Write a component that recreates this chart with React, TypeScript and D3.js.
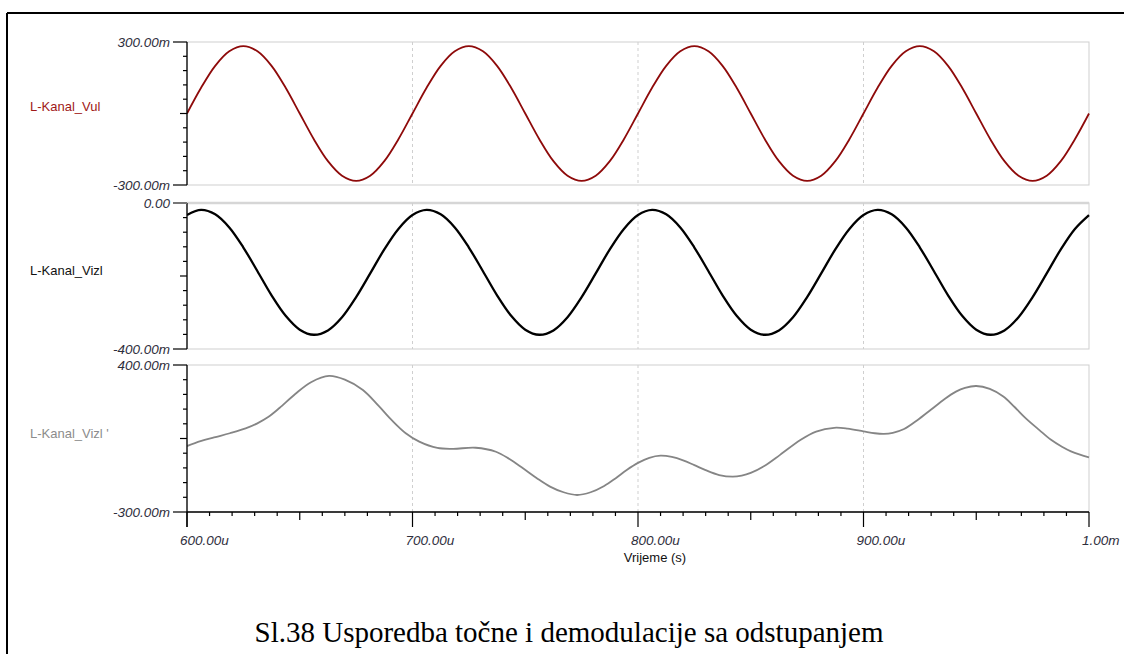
import React from 'react';
import * as d3 from 'd3';

// time samples (microseconds) for the two upper traces
const sampleTimesUs = [
  600, 606.25, 612.5, 618.75, 625, 631.25, 637.5, 643.75,
  650, 656.25, 662.5, 668.75, 675, 681.25, 687.5, 693.75,
  700, 706.25, 712.5, 718.75, 725, 731.25, 737.5, 743.75,
  750, 756.25, 762.5, 768.75, 775, 781.25, 787.5, 793.75,
  800, 806.25, 812.5, 818.75, 825, 831.25, 837.5, 843.75,
  850, 856.25, 862.5, 868.75, 875, 881.25, 887.5, 893.75,
  900, 906.25, 912.5, 918.75, 925, 931.25, 937.5, 943.75,
  950, 956.25, 962.5, 968.75, 975, 981.25, 987.5, 993.75,
  1000,
];

// L-Kanal_Vul (V)
const vulValues = [
  0, 0.108, 0.2, 0.261, 0.283, 0.261, 0.2, 0.108, 0, -0.108, -0.2, -0.261, -0.283, -0.261, -0.2, -0.108,
  0, 0.108, 0.2, 0.261, 0.283, 0.261, 0.2, 0.108, 0, -0.108, -0.2, -0.261, -0.283, -0.261, -0.2, -0.108,
  0, 0.108, 0.2, 0.261, 0.283, 0.261, 0.2, 0.108, 0, -0.108, -0.2, -0.261, -0.283, -0.261, -0.2, -0.108,
  0, 0.108, 0.2, 0.261, 0.283, 0.261, 0.2, 0.108, 0, -0.108, -0.2, -0.261, -0.283, -0.261, -0.2, -0.108,
  0,
];

// L-Kanal_Vizl (V)
const vizlValues = [
  -0.033, -0.019, -0.031, -0.067, -0.122, -0.187, -0.253, -0.309, -0.347, -0.361, -0.349, -0.313, -0.258, -0.193, -0.127, -0.071,
  -0.033, -0.019, -0.031, -0.067, -0.122, -0.187, -0.253, -0.309, -0.347, -0.361, -0.349, -0.313, -0.258, -0.193, -0.127, -0.071,
  -0.033, -0.019, -0.031, -0.067, -0.122, -0.187, -0.253, -0.309, -0.347, -0.361, -0.349, -0.313, -0.258, -0.193, -0.127, -0.071,
  -0.033, -0.019, -0.031, -0.067, -0.122, -0.187, -0.253, -0.309, -0.347, -0.361, -0.349, -0.313, -0.258, -0.193, -0.127, -0.071,
  -0.033,
];

// L-Kanal_Vizl ' (V)
const vizlPrimeTimesUs = [
  600, 606, 612, 619, 626, 631, 636, 641, 648, 655, 663, 670, 678, 685, 691, 697, 703, 711,
  718, 728, 737, 743, 749, 755, 761, 767, 773, 779, 785, 790, 795, 800, 805, 810, 815, 820,
  825, 830, 836, 842, 846, 850, 856, 863, 872, 879, 887, 893, 900, 905, 909, 913, 918, 924,
  930, 936, 941, 945, 950, 956, 962, 967, 972, 978, 983, 988, 992, 996, 1000,
];
const vizlPrimeValues = [
  0.014, 0.037, 0.055, 0.075, 0.098, 0.121, 0.152, 0.195, 0.262, 0.318, 0.348, 0.33, 0.281, 0.205, 0.135, 0.075, 0.035, 0.005,
  0.001, 0.006, -0.013, -0.048, -0.092, -0.138, -0.179, -0.206, -0.219, -0.206, -0.176, -0.14, -0.1, -0.066, -0.042, -0.032, -0.038, -0.054,
  -0.077, -0.101, -0.124, -0.132, -0.127, -0.114, -0.081, -0.028, 0.043, 0.083, 0.101, 0.097, 0.084, 0.075, 0.072, 0.077, 0.095, 0.138,
  0.188, 0.238, 0.273, 0.291, 0.3, 0.286, 0.25, 0.2, 0.146, 0.09, 0.045, 0.011, -0.011, -0.027, -0.04,
];

const xTickValuesUs = [600, 700, 800, 900, 1000];
const xTickLabels = ['600.00u', '700.00u', '800.00u', '900.00u', '1.00m'];
const panelNames = ['L-Kanal_Vul', 'L-Kanal_Vizl', "L-Kanal_Vizl '"];
const panelTopLabels = ['300.00m', '0.00', '400.00m'];
const panelBottomLabels = ['-300.00m', '-400.00m', '-300.00m'];
const panelDomains: [number, number][] = [[-0.3, 0.3], [-0.4, 0], [-0.3, 0.4]];
const xAxisTitle = 'Vrijeme (s)';
const caption = 'Sl.38 Usporedba točne i demodulacije sa odstupanjem';

const W = 1124;
const H = 654;
const X0 = 187;
const X1 = 1089;
const panelBoxes = [
  { top: 42, bottom: 185 },
  { top: 203, bottom: 349 },
  { top: 365, bottom: 512 },
];
const traceColors = ['#8e0a0a', '#000000', '#858585'];
const nameColors = ['#a01818', '#111111', '#8c8c8c'];
const traceWidths = [1.8, 2.3, 1.8];
const nameBaselines = [111, 275, 438];
const tickTextColor = '#2e2e3c';
const sans = '"Liberation Sans", Arial, Helvetica, sans-serif';

export default function App() {
  const x = d3.scaleLinear().domain([600, 1000]).range([X0, X1]);

  const series = [
    sampleTimesUs.map((t, i) => [t, vulValues[i]] as [number, number]),
    sampleTimesUs.map((t, i) => [t, vizlValues[i]] as [number, number]),
    vizlPrimeTimesUs.map((t, i) => [t, vizlPrimeValues[i]] as [number, number]),
  ];

  const minorX = d3.range(600, 1000.001, 10);

  return (
    <svg
      width={W}
      height={H}
      viewBox={`0 0 ${W} ${H}`}
      style={{ position: 'absolute', left: 0, top: 0, background: '#fff', display: 'block' }}
    >
      <rect x={0} y={0} width={W} height={H} fill="#fff" />
      {/* outer frame */}
      <line x1={7} y1={13} x2={W} y2={13} stroke="#000" strokeWidth={2} />
      <line x1={7} y1={13} x2={7} y2={H} stroke="#000" strokeWidth={2} />

      <defs>
        {panelBoxes.map((b, i) => (
          <clipPath id={`clip${i}`} key={i}>
            <rect x={X0} y={b.top - 3} width={X1 - X0 + 1} height={b.bottom - b.top + 6} />
          </clipPath>
        ))}
      </defs>

      {panelBoxes.map((b, pi) => {
        const y = d3.scaleLinear().domain(panelDomains[pi]).range([b.bottom, b.top]);
        const line = d3
          .line<[number, number]>()
          .x((d) => x(d[0]))
          .y((d) => y(d[1]))
          .curve(d3.curveCatmullRom.alpha(0.5));
        const [lo, hi] = panelDomains[pi];
        const yTicks = d3.range(0, 11).map((k) => lo + ((hi - lo) * k) / 10);
        return (
          <g key={pi}>
            {/* panel border */}
            <rect
              x={X0}
              y={b.top}
              width={X1 - X0}
              height={b.bottom - b.top}
              fill="none"
              stroke="#cfcfcf"
              strokeWidth={1}
            />
            {pi === 1 && (
              <line x1={X0} x2={X1} y1={b.top} y2={b.top} stroke="#d6d6d6" strokeWidth={2.5} />
            )}
            {/* grid */}
            {xTickValuesUs.slice(1, 4).map((t) => (
              <line
                key={t}
                x1={x(t)}
                x2={x(t)}
                y1={b.top}
                y2={b.bottom}
                stroke="#cfcfcf"
                strokeWidth={1}
                strokeDasharray="3,3"
              />
            ))}
            {/* trace */}
            <path
              d={line(series[pi]) || ''}
              fill="none"
              stroke={traceColors[pi]}
              strokeWidth={traceWidths[pi]}
              strokeLinejoin="round"
              clipPath={`url(#clip${pi})`}
            />
            {/* y axis */}
            <line x1={X0} x2={X0} y1={b.top} y2={pi === 2 ? b.bottom + 15 : b.bottom} stroke="#000" strokeWidth={1.3} />
            {yTicks.map((v, k) => {
              const len = k === 0 || k === 10 ? 14 : k === 5 ? 7 : 4;
              const gray = pi === 1 && k === 10;
              return (
                <line
                  key={k}
                  x1={X0 - len}
                  x2={X0}
                  y1={y(v)}
                  y2={y(v)}
                  stroke={gray ? '#777' : '#000'}
                  strokeWidth={gray ? 2 : 1.2}
                />
              );
            })}
            <text
              x={170}
              y={y(hi)}
              dy="0.35em"
              textAnchor="end"
              fontFamily={sans}
              fontStyle="italic"
              fontSize={13.5}
              fill={tickTextColor}
            >
              {panelTopLabels[pi]}
            </text>
            <text
              x={170}
              y={y(lo)}
              dy="0.35em"
              textAnchor="end"
              fontFamily={sans}
              fontStyle="italic"
              fontSize={13.5}
              fill={tickTextColor}
            >
              {panelBottomLabels[pi]}
            </text>
            <text x={30} y={nameBaselines[pi]} fontFamily={sans} fontSize={13} fill={nameColors[pi]}>
              {panelNames[pi]}
            </text>
          </g>
        );
      })}

      {/* x axis */}
      <line x1={X0} x2={X1} y1={512} y2={512} stroke="#000" strokeWidth={1.3} />
      {minorX.map((t, k) => {
        const len = k % 10 === 0 ? 15 : k % 5 === 0 ? 8 : 4;
        return <line key={k} x1={x(t)} x2={x(t)} y1={512} y2={512 + len} stroke="#000" strokeWidth={1.2} />;
      })}
      {xTickValuesUs.map((t, i) => (
        <text
          key={t}
          x={x(t) - 7}
          y={545}
          fontFamily={sans}
          fontStyle="italic"
          fontSize={13.5}
          fill={tickTextColor}
        >
          {xTickLabels[i]}
        </text>
      ))}
      <text x={655} y={562} textAnchor="middle" fontFamily={sans} fontSize={13} fill="#111">
        {xAxisTitle}
      </text>

      <text
        x={569}
        y={642}
        textAnchor="middle"
        fontFamily='"Liberation Serif", "Times New Roman", serif'
        fontSize={29}
        fill="#000"
      >
        {caption}
      </text>
    </svg>
  );
}
